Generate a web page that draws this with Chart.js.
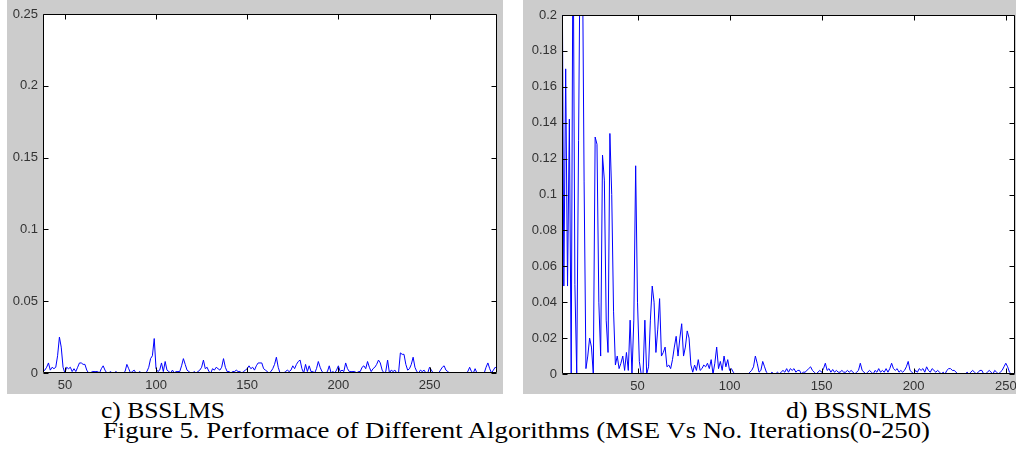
<!DOCTYPE html>
<html lang="en">
<head>
  <meta charset="UTF-8">
  <title>Figure 5 - MSE vs No. Iterations</title>
  <script src="https://cdn.jsdelivr.net/npm/chart.js"></script>
  <style>
    html, body { margin: 0; padding: 0; background: #fff; }
    body { width: 1016px; height: 455px; position: relative; overflow: hidden; }
    .panel { position: absolute; top: 0; background: #cccccc; }
    #leftPanel { left: 7px; width: 496px; height: 394px; }
    #rightPanel { left: 523px; width: 493px; height: 394px; }
    .cap {
      position: absolute;
      font-family: "Liberation Serif", "Times New Roman", serif;
      font-size: 23px;
      line-height: 23px;
      color: #000;
      white-space: nowrap;
      transform-origin: 0 0;
    }
  </style>
</head>
<body>
  <div class="panel" id="leftPanel"><canvas id="lmsChart" width="496" height="394"></canvas></div>
  <div class="panel" id="rightPanel"><canvas id="nlmsChart" width="493" height="394"></canvas></div>

  <div class="cap" data-w="124" style="left:101px; top:399px;">c) BSSLMS</div>
  <div class="cap" data-w="146" style="left:786px; top:399px;">d) BSSNLMS</div>
  <div class="cap" data-w="827" style="left:103px; top:419px;">Figure 5. Performace of Different Algorithms (MSE Vs No. Iterations(0-250)</div>

  <script>
    const xTicks = [50, 100, 150, 200, 250];
    const lmsTicks = [0, 0.05, 0.1, 0.15, 0.2, 0.25];
    const nlmsTicks = [0, 0.02, 0.04, 0.06, 0.08, 0.1, 0.12, 0.14, 0.16, 0.18, 0.2];

    // c) BSSLMS, iterations 38..287
    const lmsStart = 38;
    const lmsMse = [
      0.001, 0.002, 0.004, 0.007, 0.002, 0.004, 0.003, 0.004, 0.012, 0.025, // 38
      0.018, 0.004, 0.0, 0.004, 0.003, 0.004, 0.001, 0.003, 0.001, 0.004,   // 48
      0.007, 0.007, 0.006, 0.006, 0.002, 0.0, 0.0, 0.001, 0.001, 0.001,     // 58
      0.001, 0.0, 0.003, 0.005, 0.002, 0.0, 0.0, 0.001, 0.0, 0.0,           // 68
      0.001, 0.0, 0.0, 0.0, 0.0, 0.001, 0.006, 0.003, 0.0, 0.001,           // 78
      0.002, 0.0, 0.0, 0.001, 0.0, 0.0, 0.0, 0.001, 0.004, 0.01,            // 88
      0.012, 0.024, 0.003, 0.001, 0.002, 0.007, 0.001, 0.008, 0.002, 0.001, // 98
      0.0, 0.002, 0.0, 0.001, 0.001, 0.001, 0.005, 0.01, 0.006, 0.002,      // 108
      0.001, 0.0, 0.0, 0.001, 0.0, 0.001, 0.002, 0.004, 0.009, 0.003,       // 118
      0.004, 0.001, 0.0, 0.003, 0.002, 0.004, 0.003, 0.002, 0.004, 0.01,    // 128
      0.004, 0.001, 0.001, 0.0, 0.001, 0.001, 0.002, 0.001, 0.001, 0.0,     // 138
      0.001, 0.002, 0.003, 0.005, 0.003, 0.004, 0.002, 0.005, 0.007, 0.007, // 148
      0.007, 0.003,                                                         // 158
      0.002, 0.001, 0.0, 0.001, 0.003, 0.006, 0.011, 0.004, 0.0, 0.0,       // 160
      0.0, 0.001, 0.002, 0.001, 0.002, 0.005, 0.003, 0.006, 0.008, 0.009,   // 170
      0.003, 0.0, 0.006, 0.001, 0.005, 0.001, 0.001, 0.0, 0.003, 0.008,     // 180
      0.004, 0.001, 0.0, 0.0, 0.001, 0.005, 0.0, 0.001, 0.0, 0.002,         // 190
      0.005, 0.001, 0.002, 0.001, 0.007, 0.003, 0.001, 0.001, 0.001, 0.001, // 200
      0.0, 0.001, 0.001, 0.004, 0.005, 0.003, 0.008, 0.004, 0.001, 0.003,   // 210
      0.004, 0.006, 0.009, 0.007, 0.002, 0.0, 0.001, 0.009, 0.0, 0.002,     // 220
      0.001, 0.002, 0.0, 0.0, 0.014, 0.013, 0.013, 0.006, 0.002, 0.003,     // 230
      0.006, 0.011, 0.004, 0.001, 0.0, 0.002, 0.001, 0.002, 0.0, 0.0,       // 240
      0.004, 0.002, 0.0, 0.0, 0.0, 0.0, 0.002, 0.004, 0.005, 0.002,         // 250
      0.001, 0.0, 0.0, 0.0, 0.0, 0.0, 0.0, 0.0, 0.0, 0.0,                   // 260
      0.0, 0.001, 0.004, 0.001, 0.0, 0.003, 0.0, 0.0, 0.0, 0.0,             // 270
      0.0, 0.004, 0.007, 0.003, 0.0, 0.002, 0.004, 0.003                    // 280
    ];

    // d) BSSNLMS, iterations 9..255
    const nlmsStart = 9;
    const nlmsMse = [
      0.25,                                                                 // 9
      0.049, 0.17, 0.049, 0.142, 0.0, 0.26, 0.05, 0.0, 0.13, 0.26,          // 10
      0.25, 0.107, 0.003, 0.01, 0.02, 0.015, 0.0, 0.132, 0.128, 0.04,       // 20
      0.01, 0.122, 0.108, 0.03, 0.012, 0.134, 0.1, 0.035, 0.005, 0.01,      // 30
      0.003, 0.006, 0.01, 0.002, 0.012, 0.002, 0.03, 0.0, 0.03, 0.116,      // 40
      0.04, 0.007, 0.0, 0.0, 0.03, 0.0, 0.004, 0.03, 0.049, 0.04,           // 50
      0.012, 0.025, 0.042, 0.01, 0.012, 0.015, 0.004, 0.005, 0.003, 0.008,  // 60
      0.015, 0.021, 0.01, 0.02, 0.028, 0.01, 0.015, 0.024, 0.02, 0.005,     // 70
      0.001, 0.005, 0.002, 0.008, 0.002, 0.003, 0.005, 0.004, 0.006, 0.003, // 80
      0.008, 0.0, 0.006, 0.015, 0.003, 0.007, 0.002, 0.01, 0.004, 0.008,    // 90
      0.002, 0.003, 0.001, 0.0, 0.0, 0.0, 0.0, 0.0, 0.0, 0.0,               // 100
      0.0, 0.001, 0.002, 0.004, 0.01, 0.006, 0.001, 0.002, 0.007, 0.004,    // 110
      0.001, 0.0, 0.0, 0.001, 0.0, 0.0, 0.001, 0.0, 0.001, 0.002,           // 120
      0.001, 0.003, 0.001, 0.003, 0.002, 0.003, 0.001, 0.002, 0.002, 0.0,   // 130
      0.001, 0.001, 0.002, 0.003, 0.004, 0.002, 0.001, 0.0, 0.001, 0.002,   // 140
      0.001, 0.003, 0.006, 0.002, 0.003, 0.001, 0.0025, 0.001, 0.002, 0.001, // 150
      0.001, 0.002, 0.001, 0.001, 0.002, 0.001, 0.002, 0.001, 0.0, 0.001,   // 160
      0.002, 0.006, 0.002, 0.001, 0.0, 0.001, 0.002, 0.001, 0.0, 0.002,     // 170
      0.001, 0.003, 0.001, 0.002, 0.001, 0.003, 0.001, 0.003, 0.006, 0.003, // 180
      0.002, 0.003, 0.001, 0.002, 0.001, 0.002, 0.004, 0.007, 0.002, 0.001, // 190
      0.0, 0.002, 0.001, 0.003, 0.002, 0.003, 0.001, 0.004, 0.002, 0.001,   // 200
      0.003, 0.002, 0.001, 0.002, 0.001, 0.0, 0.001, 0.0, 0.002, 0.003,     // 210
      0.003, 0.002, 0.002, 0.001, 0.0, 0.0, 0.0, 0.0, 0.0, 0.001,           // 220
      0.0, 0.001, 0.002, 0.001, 0.0, 0.001, 0.002, 0.002, 0.0, 0.0,         // 230
      0.001, 0.002, 0.001, 0.0, 0.002, 0.001, 0.0, 0.001, 0.002, 0.004,     // 240
      0.006, 0.004, 0.001, 0.0, 0.0, 0.0                                    // 250
    ];

    const TICK_LEN = 5;

    // white plot box, black frame and inward ticks on all four sides
    const framePlugin = {
      id: 'frame',
      beforeDraw(chart) {
        const a = chart.chartArea;
        const ctx = chart.ctx;
        ctx.save();
        ctx.fillStyle = '#ffffff';
        ctx.fillRect(a.left, a.top, a.right - a.left, a.bottom - a.top);
        ctx.restore();
      },
      afterDraw(chart) {
        const a = chart.chartArea;
        const ctx = chart.ctx;
        const l = Math.round(a.left) + 0.5, r = Math.round(a.right) - 0.5;
        const t = Math.round(a.top) + 0.5, b = Math.round(a.bottom) - 0.5;
        ctx.save();
        ctx.strokeStyle = '#000000';
        ctx.lineWidth = 1;
        ctx.beginPath();
        ctx.rect(l, t, r - l, b - t);
        chart.scales.x.ticks.forEach(tk => {
          const px = Math.round(chart.scales.x.getPixelForValue(tk.value)) + 0.5;
          ctx.moveTo(px, b); ctx.lineTo(px, b - TICK_LEN);
          ctx.moveTo(px, t); ctx.lineTo(px, t + TICK_LEN);
        });
        chart.scales.y.ticks.forEach(tk => {
          const py = Math.round(chart.scales.y.getPixelForValue(tk.value)) + 0.5;
          ctx.moveTo(l, py); ctx.lineTo(l + TICK_LEN, py);
          ctx.moveTo(r, py); ctx.lineTo(r - TICK_LEN, py);
        });
        ctx.stroke();
        ctx.restore();
      }
    };

    function toPoints(start, values) {
      return values.map((v, i) => ({ x: start + i, y: v }));
    }

    function makeChart(id, start, values, xMin, xMax, yMax, yTicks, yWidth, xHeight, pad) {
      const tickFont = { family: '"Liberation Sans", Arial, sans-serif', size: 13 };
      return new Chart(document.getElementById(id), {
        type: 'line',
        data: {
          datasets: [{
            data: toPoints(start, values),
            borderColor: '#0000ff',
            borderWidth: 1,
            pointRadius: 0,
            tension: 0,
            fill: false
          }]
        },
        options: {
          responsive: false,
          animation: false,
          events: [],
          layout: { padding: pad },
          plugins: { legend: { display: false }, tooltip: { enabled: false } },
          scales: {
            x: {
              type: 'linear',
              min: xMin,
              max: xMax,
              grid: { display: false, drawTicks: false },
              border: { display: false },
              ticks: { autoSkip: false, maxRotation: 0, padding: 5, color: '#333333', font: tickFont },
              afterBuildTicks: s => { s.ticks = xTicks.map(v => ({ value: v })); },
              afterFit: s => { s.height = xHeight; s.paddingLeft = 0; s.paddingRight = 0; }
            },
            y: {
              type: 'linear',
              min: 0,
              max: yMax,
              grid: { display: false, drawTicks: false },
              border: { display: false },
              ticks: {
                autoSkip: false, padding: 5, color: '#333333', font: tickFont,
                callback: v => String(+v.toFixed(4))
              },
              afterBuildTicks: s => { s.ticks = yTicks.map(v => ({ value: v })); },
              afterFit: s => { s.width = yWidth; s.paddingTop = 0; s.paddingBottom = 0; }
            }
          }
        },
        plugins: [framePlugin]
      });
    }

    makeChart('lmsChart', lmsStart, lmsMse, 38, 287, 0.25, lmsTicks, 36, 21,
      { left: 0, top: 14, right: 6, bottom: 0 });
    makeChart('nlmsChart', nlmsStart, nlmsMse, 9, 255, 0.2, nlmsTicks, 39, 20,
      { left: 0, top: 15, right: 1, bottom: 0 });

    // stretch the caption lines to the widths they have in the figure
    document.querySelectorAll('.cap').forEach(el => {
      const w = el.getBoundingClientRect().width;
      el.style.transform = 'scaleX(' + (+el.dataset.w / w) + ')';
    });
  </script>
</body>
</html>
